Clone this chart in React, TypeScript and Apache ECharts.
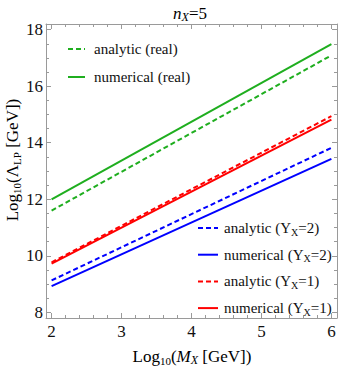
import React, { useEffect, useRef } from 'react';
import * as echarts from 'echarts';

// ---- data ----
const xEnds = [2, 6];
const anaReal = [11.6, 17.09];
const numReal = [12.0, 17.49];
const anaY2 = [9.13, 13.82];
const numY2 = [8.93, 13.43];
const anaY1 = [9.77, 14.94];
const numY1 = [9.72, 14.82];

const xMajor = [2, 3, 4, 5, 6];
const xMinor = [2.2, 2.4, 2.6, 2.8, 3.2, 3.4, 3.6, 3.8, 4.2, 4.4, 4.6, 4.8, 5.2, 5.4, 5.6, 5.8];
const yMajor = [8, 10, 12, 14, 16, 18];
const yMinor = [8.5, 9, 9.5, 10.5, 11, 11.5, 12.5, 13, 13.5, 14.5, 15, 15.5, 16.5, 17, 17.5];

const X_MIN = 1.92;
const X_MAX = 6.08;
const Y_MIN = 7.8;
const Y_MAX = 18.2;

const SERIF = 'Liberation Serif';
const GREEN = '#1fae1f';
const RED = '#ff0000';
const BLUE = '#0000ff';
const FRAME = '#9a9a9a';
const INK = '#111111';

const seriesDefs = [
  { name: 'analytic (real)', label: 'analytic (real)', ys: anaReal, color: GREEN, dashed: true },
  { name: 'numerical (real)', label: 'numerical (real)', ys: numReal, color: GREEN, dashed: false },
  { name: 'analytic (YX=2)', label: 'analytic (Y{s|X}=2)', ys: anaY2, color: BLUE, dashed: true },
  { name: 'numerical (YX=2)', label: 'numerical (Y{s|X}=2)', ys: numY2, color: BLUE, dashed: false },
  { name: 'analytic (YX=1)', label: 'analytic (Y{s|X}=1)', ys: anaY1, color: RED, dashed: true },
  { name: 'numerical (YX=1)', label: 'numerical (Y{s|X}=1)', ys: numY1, color: RED, dashed: false },
];

const richStyles = {
  s: { fontFamily: SERIF, fontSize: 11, lineHeight: 11, verticalAlign: 'bottom', color: INK },
  i: { fontFamily: SERIF, fontSize: 17, fontStyle: 'italic', color: INK },
  is: { fontFamily: SERIF, fontSize: 12, lineHeight: 12, fontStyle: 'italic', verticalAlign: 'bottom', color: INK },
  n: { fontFamily: SERIF, fontSize: 17, color: INK },
};

function makeXAxis(position: string, major: boolean, labels: boolean) {
  return {
    type: 'value',
    position,
    min: X_MIN,
    max: X_MAX,
    axisLine: { show: major, onZero: false, lineStyle: { color: FRAME, width: 1 } },
    axisTick: {
      show: true,
      inside: true,
      length: major ? 5 : 3,
      customValues: major ? xMajor : xMinor,
      lineStyle: { color: FRAME, width: 1 },
    },
    axisLabel: labels
      ? { show: true, customValues: xMajor, margin: 5, color: INK, fontFamily: SERIF, fontSize: 17 }
      : { show: false },
    splitLine: { show: false },
  };
}

function makeYAxis(position: string, major: boolean, labels: boolean) {
  return {
    type: 'value',
    position,
    min: Y_MIN,
    max: Y_MAX,
    axisLine: { show: major, onZero: false, lineStyle: { color: FRAME, width: 1 } },
    axisTick: {
      show: true,
      inside: true,
      length: major ? 5 : 3,
      customValues: major ? yMajor : yMinor,
      lineStyle: { color: FRAME, width: 1 },
    },
    axisLabel: labels
      ? { show: true, customValues: yMajor, margin: 3, color: INK, fontFamily: SERIF, fontSize: 17 }
      : { show: false },
    splitLine: { show: false },
  };
}

const legendText = {
  fontFamily: SERIF,
  fontSize: 15,
  lineHeight: 18,
  color: INK,
  rich: { s: { fontFamily: SERIF, fontSize: 10, lineHeight: 10, verticalAlign: 'bottom', color: INK } },
};

const labelMap: Record<string, string> = {};
seriesDefs.forEach((d) => (labelMap[d.name] = d.label));

export default function App() {
  const ref = useRef<HTMLDivElement>(null);
  useEffect(() => {
    if (!ref.current) return;
    const chart = echarts.init(ref.current, null, { renderer: 'svg' });
    const option = {
      animation: false,
      backgroundColor: '#ffffff',
      textStyle: { fontFamily: SERIF },
      grid: { left: 46, right: 4, top: 24, bottom: 48, containLabel: false },
      xAxis: [
        makeXAxis('bottom', true, true),
        makeXAxis('bottom', false, false),
        makeXAxis('top', true, false),
        makeXAxis('top', false, false),
      ],
      yAxis: [
        makeYAxis('left', true, true),
        makeYAxis('left', false, false),
        makeYAxis('right', true, false),
        makeYAxis('right', false, false),
      ],
      legend: [
        {
          data: [seriesDefs[0].name, seriesDefs[1].name],
          orient: 'vertical',
          left: 62,
          top: 35,
          padding: 5,
          itemWidth: 17,
          itemHeight: 18,
          itemGap: 10,
          selectedMode: false,
          itemStyle: { opacity: 0 },
          formatter: (n: string) => labelMap[n],
          textStyle: { ...legendText, padding: [0, 0, 0, 4] },
        },
        {
          data: [seriesDefs[2].name, seriesDefs[3].name, seriesDefs[4].name, seriesDefs[5].name],
          orient: 'vertical',
          left: 192,
          top: 214,
          padding: 5,
          itemWidth: 20,
          itemHeight: 18,
          itemGap: 8.7,
          selectedMode: false,
          itemStyle: { opacity: 0 },
          formatter: (n: string) => labelMap[n],
          textStyle: { ...legendText, padding: [0, 0, 0, 1] },
        },
      ],
      series: seriesDefs.map((d) => ({
        name: d.name,
        type: 'line',
        xAxisIndex: 0,
        yAxisIndex: 0,
        symbol: 'none',
        showSymbol: false,
        data: xEnds.map((x, i) => [x, d.ys[i]]),
        lineStyle: { color: d.color, width: 2, type: d.dashed ? [5, 3] : 'solid' },
        itemStyle: { color: d.color },
        silent: true,
      })),
      graphic: [
        {
          type: 'text',
          x: 190,
          y: 13,
          style: {
            text: '{i|n}{is|X}{n|=5}',
            rich: richStyles,
            align: 'center',
            verticalAlign: 'middle',
            lineHeight: 20,
            fontFamily: SERIF,
            fontSize: 17,
          },
        },
        {
          type: 'text',
          x: 192,
          y: 356,
          style: {
            text: '{n|Log}{s|10}{n|(}{i|M}{is|X}{n| [GeV])}',
            rich: richStyles,
            align: 'center',
            verticalAlign: 'middle',
            lineHeight: 20,
            fontFamily: SERIF,
            fontSize: 17,
          },
        },
        {
          type: 'text',
          x: 12,
          y: 160,
          rotation: Math.PI / 2,
          style: {
            text: '{n|Log}{s|10}{n|(Λ}{s|LP}{n| [GeV])}',
            rich: richStyles,
            align: 'center',
            verticalAlign: 'middle',
            lineHeight: 20,
            fontFamily: SERIF,
            fontSize: 17,
          },
        },
      ],
    };
    chart.setOption(option as any);
    return () => chart.dispose();
  }, []);
  return (
    <div
      ref={ref}
      style={{ position: 'absolute', left: 0, top: 0, width: 341, height: 366 }}
    />
  );
}
